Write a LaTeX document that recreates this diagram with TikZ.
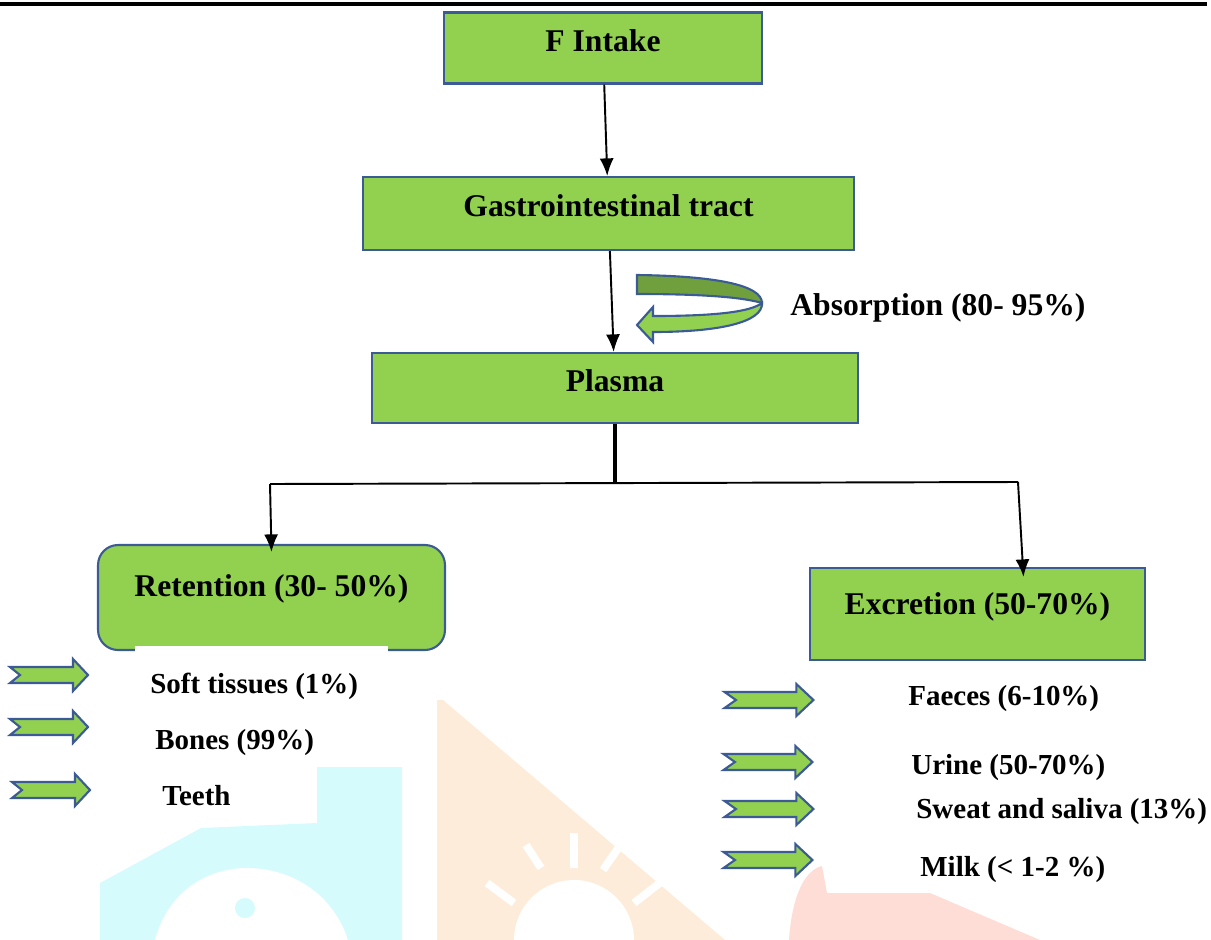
\documentclass[tikz,border=0pt]{standalone}
\usepackage{fontspec}
\setmainfont{Liberation Serif}
\usetikzlibrary{arrows.meta,calc}
\definecolor{boxgreen}{RGB}{146,208,80}
\definecolor{boxblue}{RGB}{59,90,150}
\definecolor{darkgreen}{RGB}{112,160,62}
\definecolor{wmcyan}{RGB}{214,251,252}
\definecolor{wmorange}{RGB}{254,236,218}
\definecolor{wmpink}{RGB}{254,221,215}

\def \boxfont {\fontsize{18}{21}\selectfont\bfseries}
\def \listfont {\fontsize{16.5}{19}\selectfont\bfseries}

\begin{document}
\begin{tikzpicture}[x=0.02cm, y=-0.02cm,
  box/.style={draw=boxblue, line width=1.2pt, fill=boxgreen, inner sep=0pt, font=\boxfont,
    text height=0.7em, text depth=0.35em},
  item/.style={font=\listfont, inner sep=0pt, anchor=mid west},
  flow/.style={line width=1.1pt, -{Latex[length=10pt,width=8pt]}},
  notched/.pic={\draw[draw=boxblue, line width=1.2pt, fill=boxgreen, line join=miter]
    (-39,-8) -- (24,-8) -- (24,-16) -- (39,0) -- (24,16) -- (24,8) -- (-39,8) -- (-29,0) -- cycle;}]
\useasboundingbox (0,0) rectangle (1211,940);

% watermark in the background
\fill[wmcyan] (317,767) -- (402,767) -- (402,940) -- (100,940) -- (100,883) -- (201,828) -- (317,823) -- cycle;
\fill[white] (155,940) .. controls (170,885) and (215,867) .. (250,868) .. controls (300,870) and (335,900) .. (348,940) -- cycle;
\fill[wmcyan] (245,908) circle[radius=0.2cm];
\fill[wmorange] (437,700) -- (443,700) -- (725,940) -- (437,940) -- cycle;
\fill[white] (514,940) arc[start angle=180, end angle=0, radius=1.2cm] -- cycle;
\draw[white, line width=4.5pt] (574,833) -- (574,868) (526,845) -- (541,868) (619,847) -- (603,870)
  (487,883) -- (514,903) (661,882) -- (634,903);
\fill[wmpink] (789,940) .. controls (792,895) and (805,870) .. (822,866) -- (827,893) -- (930,893) -- (1040,940) -- cycle;

% top rule
\draw[line width=2.3pt] (0,4) -- (1207,4);

% main chain
\node[box, minimum width=6.36cm, minimum height=1.42cm] (intake) at (603,48) {F Intake};
\node[box, minimum width=9.82cm, minimum height=1.46cm] (gastro) at (608.5,213.5) {Gastrointestinal tract};
\node[box, minimum width=9.72cm, minimum height=1.40cm] (plasma) at (615,388) {Plasma};
\node[box, rounded corners=0.4cm, minimum width=6.94cm, minimum height=2.10cm] (ret) at (271.5,597.5) {};
\fill[white] (135,646) rectangle (388,656);
\node[font=\boxfont, inner sep=0pt] (retlabel) at (271.5,589) {Retention (30- 50\%)};
\node[box, text depth=0.6em, minimum width=6.70cm, minimum height=1.84cm] (exc) at (977.5,614) {Excretion (50-70\%)};

\draw[flow] (intake) -- (gastro);
\draw[flow] (gastro) -- (plasma);

% absorption loop
\draw[draw=boxblue, line width=1.2pt, fill=darkgreen]
  (637,275) .. controls (715,276) and (762,285) .. (762,303)
  .. controls (745,298) and (710,294) .. (637,294) -- cycle;
\draw[draw=boxblue, line width=1.2pt, fill=boxgreen, line join=miter]
  (762,303) .. controls (763,322) and (720,332) .. (653,332) -- (653,342) -- (637,325) -- (653,307) -- (653,316)
  .. controls (715,316) and (750,312) .. (762,303) -- cycle;
\node[font=\boxfont, inner sep=0pt, anchor=mid west] (absorb) at (790,311) {Absorption (80- 95\%)};

% split
\coordinate (split) at (615,483);
\coordinate (splitl) at (270,484);
\coordinate (splitr) at (1018,482);
\draw[line width=1.8pt] (plasma.south) -- (split);
\draw[line width=1.1pt] (splitl) -- (splitr);
\draw[flow] (splitl) -- ($(ret.north)+(0,8)$);
\draw[flow] (splitr) -- ($(exc.north)+(46,10)$);

% retention items
\pic at (49,675) {notched};
\pic at (49,727) {notched};
\pic at (51,790) {notched};
\node[item] (soft) at (150,689) {Soft tissues (1\%)};
\node[item] (bones) at (155,745) {Bones (99\%)};
\node[item] (teeth) at (162,801) {Teeth};

% excretion items
\pic[xscale=1.14] at (769,700) {notched};
\pic[xscale=1.14] at (768,762) {notched};
\pic[xscale=1.14] at (769,809) {notched};
\pic[xscale=1.14] at (768,860) {notched};
\node[item] (faeces) at (908,701) {Faeces (6-10\%)};
\node[item] (urine) at (911,770) {Urine (50-70\%)};
\node[item] (sweat) at (916,814) {Sweat and saliva (13\%)};
\node[item] (milk) at (920,872) {Milk (< 1-2 \%)};
\end{tikzpicture}
\end{document}
